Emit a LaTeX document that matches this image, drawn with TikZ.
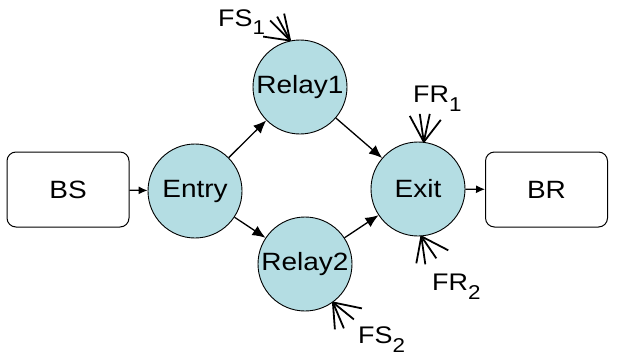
\documentclass[tikz,border=0pt]{standalone}
\usepackage{fontspec}
\setmainfont[FakeStretch=1.12]{Liberation Sans}
\usetikzlibrary{arrows.meta}
\definecolor{nodeblue}{RGB}{180,221,227}
\newcommand\sublbl[2]{#1\raisebox{-9pt}{\fontsize{20}{22}\selectfont #2}}
\begin{document}
\begin{tikzpicture}[x=1pt,y=-1pt,
  st/.style={circle,draw=black,line width=0.9pt,fill=nodeblue,minimum size=94pt,inner sep=0pt,font=\fontsize{25}{30}\selectfont},
  boxnode/.style={rectangle,rounded corners=9pt,draw=black,line width=1pt,minimum width=122pt,minimum height=75pt,inner sep=0pt,font=\fontsize{25}{30}\selectfont},
  conn/.style={line width=1.3pt,-{Latex[length=13pt,width=11pt]}},
  hconn/.style={line width=1.3pt,-{Latex[length=9pt,width=8pt]}},
  fanline/.style={line width=1.8pt},
  lbl/.style={anchor=base west,inner sep=0pt,font=\fontsize{24}{28}\selectfont}]
\useasboundingbox[fill=white] (0,0) rectangle (620,356);
\node[boxnode] (BS) at (68,189.5) {BS};
\node[boxnode] (BR) at (546.5,189.5) {BR};
\node[st] (Entry) at (195,191) {Entry};
\node[st] (Relay1) at (300,87) {Relay1};
\node[st] (Relay2) at (305,264) {Relay2};
\node[st] (Exit) at (418,189) {Exit};
\draw[hconn] (BS) -- (Entry);
\draw[hconn] (Exit) -- (BR);
\draw[conn] (Entry) -- (Relay1);
\draw[conn] (Entry) -- (Relay2);
\draw[conn] (Relay1) -- (Exit);
\draw[conn] (Relay2) -- (Exit);
\foreach \dx/\dy in {-27/-4,-20/-20,-13/-24,-6/-27} \draw[fanline] (Relay1.102) -- ++(\dx,\dy);
\foreach \dx/\dy in {-14/-26,-4/-28,6/-28,17/-22} \draw[fanline] (Exit.83) -- ++(\dx,\dy);
\foreach \dx/\dy in {-5/27,4/28,15/22,27/14} \draw[fanline] (Exit.-86) -- ++(\dx,\dy);
\foreach \dx/\dy in {2/27,11/26,21/17,29/6} \draw[fanline] (Relay2.-54) -- ++(\dx,\dy);
\node[lbl] (FS1) at (218,26) {\sublbl{FS}{1}};
\node[lbl] (FR1) at (413,102) {\sublbl{FR}{1}};
\node[lbl] (FR2) at (432,290) {\sublbl{FR}{2}};
\node[lbl] (FS2) at (358,343) {\sublbl{FS}{2}};
\end{tikzpicture}
\end{document}
